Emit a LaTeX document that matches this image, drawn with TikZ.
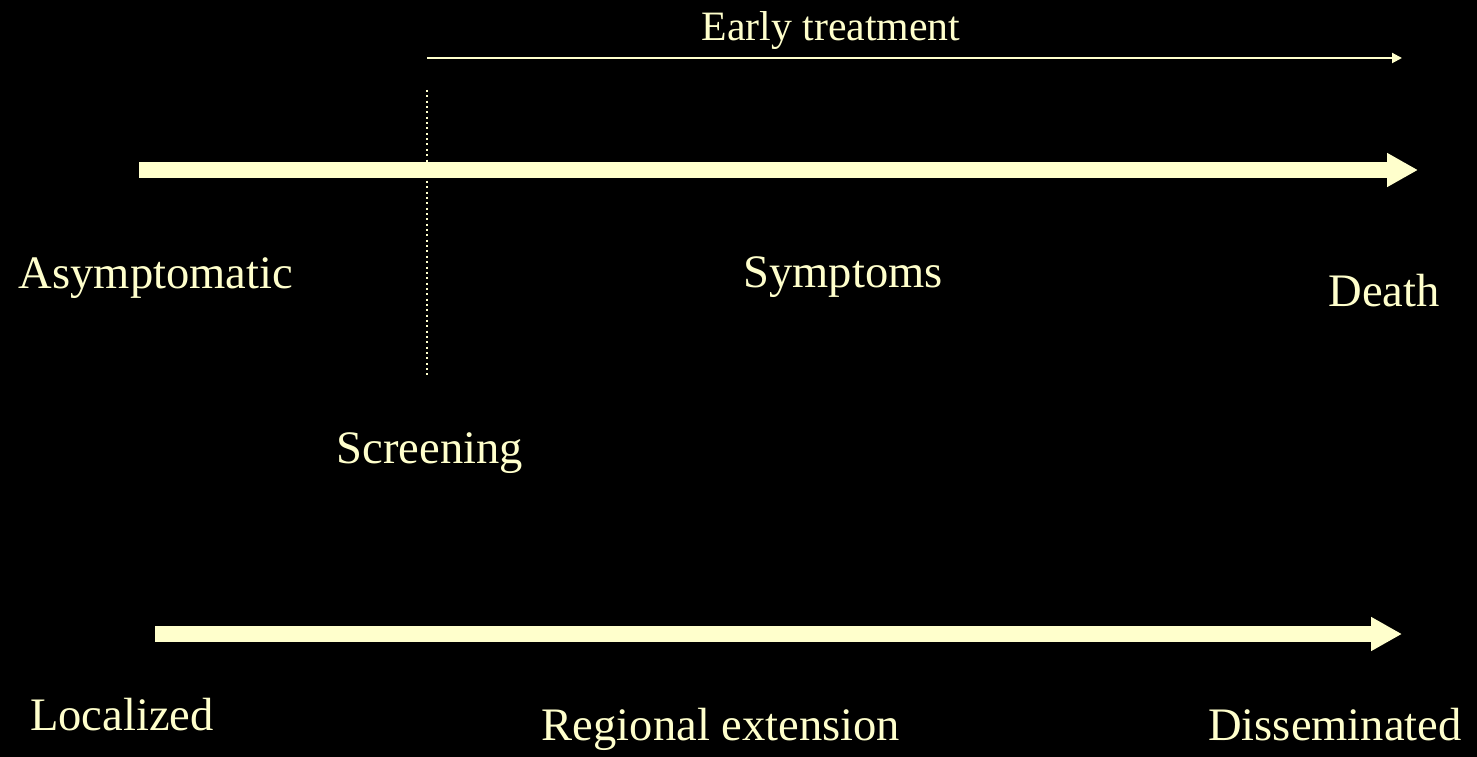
\documentclass[tikz,border=0pt]{standalone}
\usepackage{fontspec}
\setmainfont{Liberation Serif}
\usetikzlibrary{arrows.meta}
\definecolor{cream}{HTML}{FFFFCC}

\begin{document}
\begin{tikzpicture}[
    x=0.02cm, y=-0.02cm,
    label/.style={text=cream, font=\fontsize{26.5}{30}\selectfont, anchor=base, inner sep=0pt},
    smalllabel/.style={text=cream, font=\fontsize{23.8}{28}\selectfont, anchor=base, inner sep=0pt},
    timeline/.style={cream, line width=0.32cm, -{Triangle[length=0.62cm, width=0.64cm]}},
    thinarrow/.style={cream, line width=0.04cm, -{Triangle[length=0.2cm, width=0.2cm]}},
    guide/.style={cream, line width=0.04cm, dash pattern=on 0.04cm off 0.067cm}
]
%
\fill[black] (0,0) rectangle (1477,757);
\useasboundingbox (0,0) rectangle (1477,757);

% clinical course
\coordinate (courseA) at (139,170);
\coordinate (courseB) at (1418,170);
\draw[timeline] (courseA) -- (courseB);
\node[label] (asym) at (156,288) {Asymptomatic};
\node[label] (symp) at (843,287) {Symptoms};
\node[label] (death) at (1384,306) {Death};

% screening time
\coordinate (screenTop) at (427,90);
\coordinate (screenBot) at (427,376);
\draw[guide] (screenTop) -- (screenBot);
\node[label] (screen) at (430,463) {Screening};

\coordinate (treatA) at (427,58);
\coordinate (treatB) at (1402,58);
\draw[thinarrow] (treatA) -- (treatB);
\node[smalllabel] (early) at (831,41) {Early treatment};

% tumour extension
\coordinate (stageA) at (155,634);
\coordinate (stageB) at (1402,634);
\draw[timeline] (stageA) -- (stageB);
\node[label] (local) at (122,730) {Localized};
\node[label] (regional) at (721,740) {Regional extension};
\node[label] (dissem) at (1335,740) {Disseminated};
\end{tikzpicture}
\end{document}
